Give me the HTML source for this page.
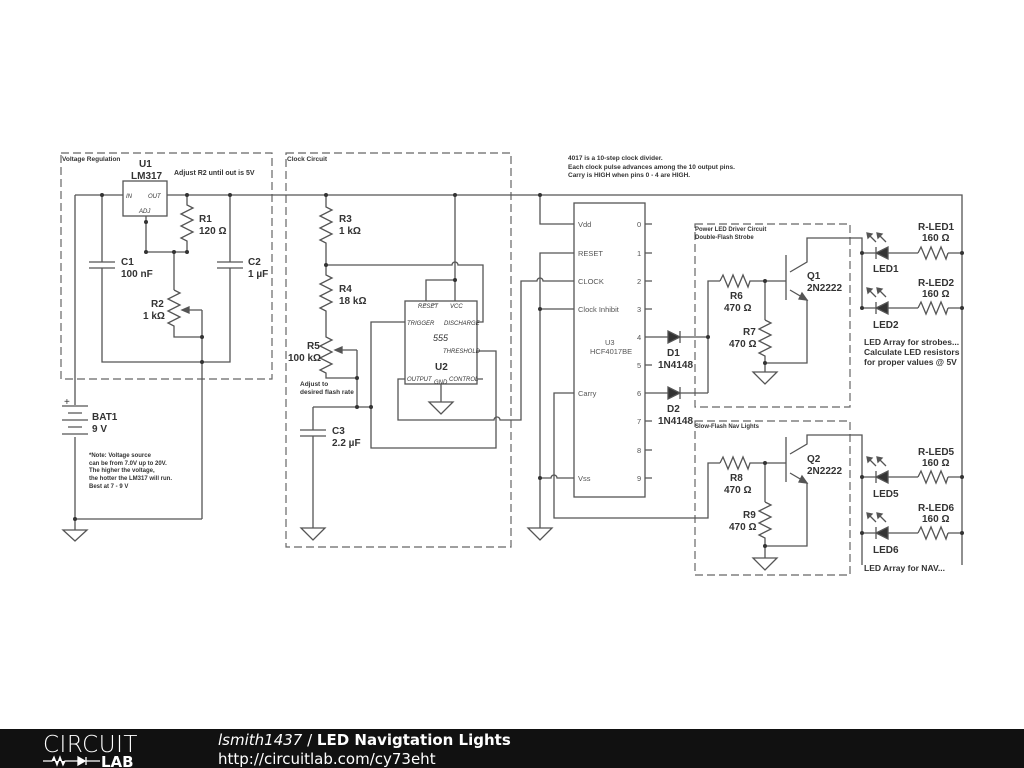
<!DOCTYPE html>
<html><head><meta charset="utf-8"><style>
html,body{margin:0;padding:0;background:#fff;width:1024px;height:768px;overflow:hidden}
svg{position:absolute;left:0;top:0}
text{font-family:"Liberation Sans",sans-serif;fill:#333}
.b{font-weight:bold;font-size:10px}
.s{font-size:7px;font-weight:bold}
.i{font-size:6px;font-style:italic}
.p{font-size:7.5px;fill:#555}
</style></head><body>
<svg width="1024" height="768" viewBox="0 0 1024 768">
<g fill="none" stroke="#666" stroke-width="1.2" stroke-dasharray="8,4">
<rect x="61" y="153" width="211" height="226"/>
<rect x="286" y="153" width="225" height="394"/>
<rect x="695" y="224" width="155" height="183"/>
<rect x="695" y="421" width="155" height="154"/>
</g>
<g fill="none" stroke="#555" stroke-width="1.3">
<path d="M75 195H123M167 195H962V565"/>
<rect x="123" y="181" width="44" height="35"/>
<path d="M75 195V405M75 437V519H202"/>
<path d="M102 195V262M102 268V362H230V268M230 262V195M89 262H115M89 268H115M217 262H243M217 268H243"/>
<polyline points="187,195 187,205 193,208 181,214 193,220 181,226 193,232 181,238 187,241 187,252"/>
<path d="M146 216V252H187M174 252V290"/>
<polyline points="174,290 180,293 168,299 180,305 168,311 180,317 168,323 174,326 174,337 202,337"/>
<path d="M202 310H183M202 310V519"/>
<path d="M189 307L182 310L189 313Z" fill="#555"/>
<path d="M62 406H88M68 413H82M62 420H88M68 427H82M62 434H88"/>
<path d="M75 519V530M63 530H87L75 541Z"/>
<polyline points="326,195 326,207 332,210 320,216 332,222 320,228 332,234 320,240 326,243 326,275 332,278 320,284 332,290 320,296 332,302 320,308 326,311 326,337 332,340 320,346 332,352 320,358 332,364 320,370 326,373 326,378 357,378"/>
<path d="M357 350H337M357 350V407"/>
<path d="M342 347L335 350L342 353Z" fill="#555"/>
<path d="M326 265H452A3 3 0 0 1 458 265H483V322H477"/>
<path d="M455 195V301M455 280H426V301"/>
<rect x="405" y="301" width="72" height="83"/>
<path d="M313 407H371V322H405M371 407V448H496V351H477M477 379H483"/>
<path d="M405 379H398V420H494A3 3 0 0 1 500 420H521V281H537A3 3 0 0 1 543 281H574"/>
<path d="M441 384V402M429 402H453L441 414Z"/>
<path d="M313 407V430M300 430H326M300 436H326M313 436V528M301 528H325L313 540Z"/>
<rect x="574" y="203" width="71" height="294"/>
<path d="M540 195V224H574M574 253H540V528M528 528H552L540 540Z"/>
<path d="M540 309H574M540 478H551A3 3 0 0 1 557 478H574"/>
<path d="M574 393H554V518H708V463H720"/>
<path d="M645 224H652M645 253H652M645 281H652M645 309H652M645 337H668M680 337H708M645 365H652M645 393H668M680 393H708M645 421H652M645 450H652M645 478H652"/>
<path d="M668 331V343L680 337Z M668 387V399L680 393Z" fill="#333"/>
<path d="M680 331V343M680 387V399"/>
<path d="M708 393V281H720"/>
<polyline points="720,281 723,275 728,287 733,275 738,287 743,275 748,287 750,281 786,281"/>
<path d="M765 281V320"/>
<polyline points="765,320 771,323 759,329 771,335 759,341 771,347 759,353 765,356 765,363 807,363 807,300 790,290"/>
<path d="M765 363V372M753 372H777L765 384Z"/>
<path d="M786 255V300M790 272L807 262V238H862V308"/>
<path d="M802 293L807 300L799 299Z" fill="#555"/>
<polyline points="720,463 723,457 728,469 733,457 738,469 743,457 748,469 750,463 786,463"/>
<path d="M765 463V502"/>
<polyline points="765,502 771,505 759,511 771,517 759,523 771,529 759,535 765,538 765,546 807,546 807,483 790,473"/>
<path d="M765 546V558M753 558H777L765 570Z"/>
<path d="M786 437V482M790 454L807 444V435H862V565"/>
<path d="M802 476L807 483L799 482Z" fill="#555"/>
<path d="M862 253H876M888 253H918M948 253H962M862 308H876M888 308H918M948 308H962M862 477H876M888 477H918M948 477H962M862 533H876M888 533H918M948 533H962"/>
<polyline points="918,253 921,247 926,259 931,247 936,259 941,247 946,259 948,253"/>
<polyline points="918,308 921,302 926,314 931,302 936,314 941,302 946,314 948,308"/>
<polyline points="918,477 921,471 926,483 931,471 936,483 941,471 946,483 948,477"/>
<polyline points="918,533 921,527 926,539 931,527 936,539 941,527 946,539 948,533"/>
<path d="M876 247V259M876 302V314M876 471V483M876 527V539"/>
<path d="M888 247V259L876 253Z M888 302V314L876 308Z M888 471V483L876 477Z M888 527V539L876 533Z" fill="#333"/>
<path d="M876 242L868 234M886 242L878 234M876 297L868 289M886 297L878 289M876 466L868 458M886 466L878 458M876 522L868 514M886 522L878 514"/>
<path d="M867 233l5 1-4 4zM877 233l5 1-4 4zM867 288l5 1-4 4zM877 288l5 1-4 4zM867 457l5 1-4 4zM877 457l5 1-4 4zM867 513l5 1-4 4zM877 513l5 1-4 4z" fill="#555"/>
</g>
<g fill="#333">
<circle cx="102" cy="195" r="2"/><circle cx="187" cy="195" r="2"/><circle cx="230" cy="195" r="2"/><circle cx="146" cy="222" r="2"/>
<circle cx="174" cy="252" r="2"/><circle cx="187" cy="252" r="2"/><circle cx="146" cy="252" r="2"/><circle cx="202" cy="337" r="2"/><circle cx="202" cy="362" r="2"/>
<circle cx="75" cy="519" r="2"/><circle cx="326" cy="195" r="2"/><circle cx="455" cy="195" r="2"/><circle cx="326" cy="265" r="2"/><circle cx="455" cy="280" r="2"/>
<circle cx="357" cy="378" r="2"/><circle cx="357" cy="407" r="2"/><circle cx="371" cy="407" r="2"/><circle cx="540" cy="195" r="2"/><circle cx="540" cy="309" r="2"/><circle cx="540" cy="478" r="2"/>
<circle cx="708" cy="337" r="2"/><circle cx="765" cy="281" r="2"/><circle cx="765" cy="363" r="2"/><circle cx="765" cy="463" r="2"/><circle cx="765" cy="546" r="2"/>
<circle cx="862" cy="253" r="2"/><circle cx="862" cy="308" r="2"/><circle cx="962" cy="253" r="2"/><circle cx="962" cy="308" r="2"/>
<circle cx="862" cy="477" r="2"/><circle cx="862" cy="533" r="2"/><circle cx="962" cy="477" r="2"/><circle cx="962" cy="533" r="2"/>
</g>
<text x="62" y="161" class="s" style="font-size:6.5px">Voltage Regulation</text>
<text x="139" y="167" class="b">U1</text><text x="131" y="179" class="b">LM317</text>
<text x="174" y="175" class="s">Adjust R2 until out is 5V</text>
<text x="126" y="198" class="i">IN</text><text x="148" y="198" class="i">OUT</text><text x="139" y="213" class="i">ADJ</text>
<text x="199" y="222" class="b">R1</text><text x="199" y="234" class="b">120 Ω</text>
<text x="121" y="265" class="b">C1</text><text x="121" y="277" class="b">100 nF</text>
<text x="248" y="265" class="b">C2</text><text x="248" y="277" class="b">1 µF</text>
<text x="151" y="307" class="b">R2</text><text x="143" y="319" class="b">1 kΩ</text>
<text x="64" y="405" font-size="10">+</text>
<text x="92" y="420" class="b">BAT1</text><text x="92" y="432" class="b">9 V</text>
<text x="89" y="457" class="s" style="font-size:6px">*Note: Voltage source</text>
<text x="89" y="465" class="s" style="font-size:6px">can be from 7.0V up to 20V.</text>
<text x="89" y="472" class="s" style="font-size:6px">The higher the voltage,</text>
<text x="89" y="480" class="s" style="font-size:6px">the hotter the LM317 will run.</text>
<text x="89" y="488" class="s" style="font-size:6px">Best at 7 - 9 V</text>
<text x="287" y="161" class="s" style="font-size:6.5px">Clock Circuit</text>
<text x="339" y="222" class="b">R3</text><text x="339" y="234" class="b">1 kΩ</text>
<text x="339" y="292" class="b">R4</text><text x="339" y="304" class="b">18 kΩ</text>
<text x="307" y="349" class="b">R5</text><text x="288" y="361" class="b">100 kΩ</text>
<text x="300" y="386" class="s" style="font-size:6.5px">Adjust to</text><text x="300" y="394" class="s" style="font-size:6.5px">desired flash rate</text>
<text x="332" y="434" class="b">C3</text><text x="332" y="446" class="b">2.2 µF</text>
<text x="418" y="308" class="i" text-decoration="overline">RESET</text><text x="450" y="308" class="i">VCC</text>
<text x="407" y="325" class="i">TRIGGER</text><text x="444" y="325" class="i">DISCHARGE</text>
<text x="433" y="341" style="font-style:italic;font-size:9px">555</text>
<text x="443" y="353" class="i">THRESHOLD</text>
<text x="435" y="370" class="b">U2</text>
<text x="407" y="381" class="i">OUTPUT</text><text x="434" y="384" class="i">GND</text><text x="449" y="381" class="i">CONTROL</text>
<text x="568" y="160" class="s" style="font-size:6.5px">4017 is a 10-step clock divider.</text>
<text x="568" y="169" class="s" style="font-size:6.5px">Each clock pulse advances among the 10 output pins.</text>
<text x="568" y="177" class="s" style="font-size:6.5px">Carry is HIGH when pins 0 - 4 are HIGH.</text>
<text x="578" y="227" class="p">Vdd</text><text x="578" y="256" class="p">RESET</text><text x="578" y="284" class="p">CLOCK</text>
<text x="578" y="312" class="p">Clock Inhibit</text><text x="578" y="396" class="p">Carry</text><text x="578" y="481" class="p">Vss</text>
<text x="605" y="345" class="p">U3</text><text x="590" y="354" class="p">HCF4017BE</text>
<text x="637" y="227" class="p">0</text><text x="637" y="256" class="p">1</text><text x="637" y="284" class="p">2</text><text x="637" y="312" class="p">3</text><text x="637" y="340" class="p">4</text><text x="637" y="368" class="p">5</text><text x="637" y="396" class="p">6</text><text x="637" y="424" class="p">7</text><text x="637" y="453" class="p">8</text><text x="637" y="481" class="p">9</text>
<text x="667" y="356" class="b">D1</text><text x="658" y="368" class="b">1N4148</text>
<text x="667" y="412" class="b">D2</text><text x="658" y="424" class="b">1N4148</text>
<text x="695" y="231" class="s" style="font-size:6px">Power LED Driver Circuit</text><text x="695" y="239" class="s" style="font-size:6px">Double-Flash Strobe</text>
<text x="695" y="428" class="s" style="font-size:6px">Slow-Flash Nav Lights</text>
<text x="730" y="299" class="b">R6</text><text x="724" y="311" class="b">470 Ω</text>
<text x="743" y="335" class="b">R7</text><text x="729" y="347" class="b">470 Ω</text>
<text x="807" y="279" class="b">Q1</text><text x="807" y="291" class="b">2N2222</text>
<text x="730" y="481" class="b">R8</text><text x="724" y="493" class="b">470 Ω</text>
<text x="743" y="518" class="b">R9</text><text x="729" y="530" class="b">470 Ω</text>
<text x="807" y="462" class="b">Q2</text><text x="807" y="474" class="b">2N2222</text>
<text x="918" y="230" class="b">R-LED1</text><text x="922" y="241" class="b">160 Ω</text>
<text x="873" y="272" class="b">LED1</text>
<text x="918" y="286" class="b">R-LED2</text><text x="922" y="297" class="b">160 Ω</text>
<text x="873" y="328" class="b">LED2</text>
<text x="864" y="345" class="b" style="font-size:8.5px">LED Array for strobes...</text>
<text x="864" y="355" class="b" style="font-size:8.5px">Calculate LED resistors</text>
<text x="864" y="365" class="b" style="font-size:8.5px">for proper values @ 5V</text>
<text x="918" y="455" class="b">R-LED5</text><text x="922" y="466" class="b">160 Ω</text>
<text x="873" y="497" class="b">LED5</text>
<text x="918" y="511" class="b">R-LED6</text><text x="922" y="522" class="b">160 Ω</text>
<text x="873" y="553" class="b">LED6</text>
<text x="864" y="571" class="b" style="font-size:8.5px">LED Array for NAV...</text>
<rect x="0" y="729" width="1024" height="39" fill="#111"/>
<text x="43" y="752" style="fill:#fff;font-family:'DejaVu Sans',sans-serif;font-size:23px;font-weight:200;letter-spacing:0.5px">CIRCUIT</text>
<path d="M43 761H52L54 757L57 765L60 757L63 765L65 761H72M72 761H78M78 757V765L85 761Z M86 757V765M86 761H100" stroke="#fff" stroke-width="1.3" fill="#fff"/>
<text x="101" y="767" style="fill:#fff;font-family:'DejaVu Sans',sans-serif;font-size:15px;font-weight:bold">LAB</text>
<text x="218" y="745" style="fill:#fff;font-family:'DejaVu Sans',sans-serif;font-size:15px"><tspan font-style="italic">lsmith1437</tspan> / <tspan font-weight="bold">LED Navigtation Lights</tspan></text>
<text x="218" y="764" style="fill:#fff;font-family:'DejaVu Sans',sans-serif;font-size:15px">http://circuitlab.com/cy73eht</text>
</svg>
</body></html>
